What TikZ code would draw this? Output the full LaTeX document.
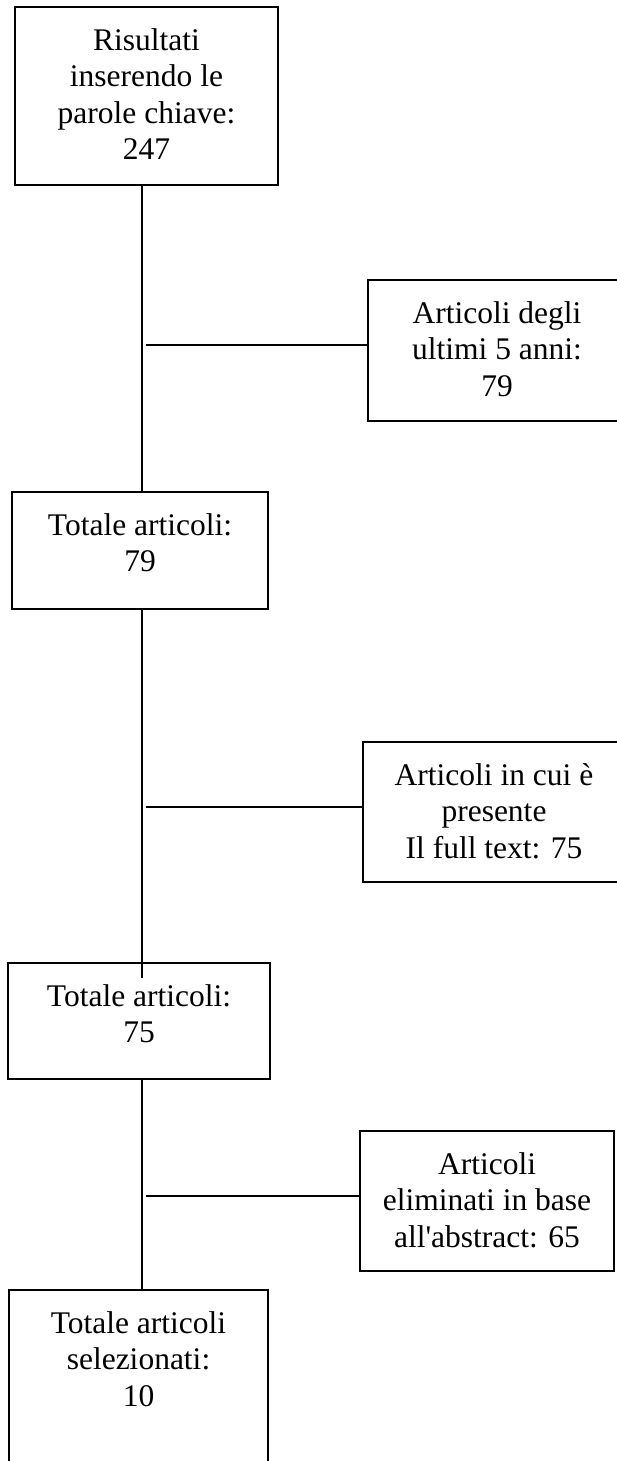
\documentclass[tikz,border=0pt]{standalone}
\usepackage{fontspec}
\newfontfamily\schrift{Liberation Serif}
\usepackage{tikz}
\usetikzlibrary{positioning}

\begin{document}
\begin{tikzpicture}[x=1pt, y=-1pt,
		kasten/.style={draw, line width=2.5pt, inner sep=0pt, outer sep=0pt},
		beschriftung/.style={inner sep=0pt, align=center, font={\schrift\fontsize{31.5}{36.5}\selectfont}},
		linie/.style={line width=2pt}]
			% Rahmen festlegen
			\path[use as bounding box, clip] (0,0) rectangle (617,1461);
			
			% Kaesten zeichnen
			\node[kasten, minimum width=263pt, minimum height=178pt] (Risultati) at (146.5,96) {};
			\node[kasten, minimum width=258pt, minimum height=141pt] (Anni) at (497,350.5) {};
			\node[kasten, minimum width=256pt, minimum height=117pt] (Totale-79) at (140,550.5) {};
			\node[kasten, minimum width=262pt, minimum height=140pt] (Fulltext) at (494,812) {};
			\node[kasten, minimum width=262pt, minimum height=116pt] (Totale-75) at (139,1021) {};
			\node[kasten, minimum width=254pt, minimum height=140pt] (Abstract) at (487,1201) {};
			\node[kasten, minimum width=259pt, minimum height=200pt] (Selezionati) at (138.5,1390) {};
			
			% Texte eintragen
			\node[beschriftung, below=21pt of Risultati.north] (Risultati-Text) {Risultati\\inserendo le\\parole chiave:\\247};
			\node[beschriftung, below=21pt of Anni.north] (Anni-Text) {Articoli degli\\ultimi 5 anni:\\79};
			\node[beschriftung, below=21pt of Totale-79.north] (Totale-79-Text) {Totale articoli:\\79};
			\node[beschriftung, below=21pt of Fulltext.north] (Fulltext-Text) {Articoli in cui è\\presente\\Il full text: 75};
			\node[beschriftung, below=21pt of Totale-75.north] (Totale-75-Text) {Totale articoli:\\75};
			\node[beschriftung, below=21pt of Abstract.north] (Abstract-Text) {Articoli\\eliminati in base\\all'abstract: 65};
			\node[beschriftung, below=21pt of Selezionati.north] (Selezionati-Text) {Totale articoli\\selezionati:\\10};
			
			% Hauptlinie zeichnen
			\coordinate (Stamm) at (142,0);
			\coordinate (Abzweig) at (146,0);
			\draw[linie] (Risultati.south -| Stamm) to (Totale-79.north -| Stamm);
			\draw[linie] (Totale-79.south -| Stamm) to ([yshift=-15pt]Totale-75.north -| Stamm);
			\draw[linie] (Totale-75.south -| Stamm) to (Selezionati.north -| Stamm);
			
			% Abzweigungen zeichnen
			\draw[linie] ([yshift=5.5pt]Anni.west -| Abzweig) to ([yshift=5.5pt]Anni.west);
			\draw[linie] ([yshift=5pt]Fulltext.west -| Abzweig) to ([yshift=5pt]Fulltext.west);
			\draw[linie] ([yshift=5pt]Abstract.west -| Abzweig) to ([yshift=5pt]Abstract.west);
	\end{tikzpicture}
\end{document}
